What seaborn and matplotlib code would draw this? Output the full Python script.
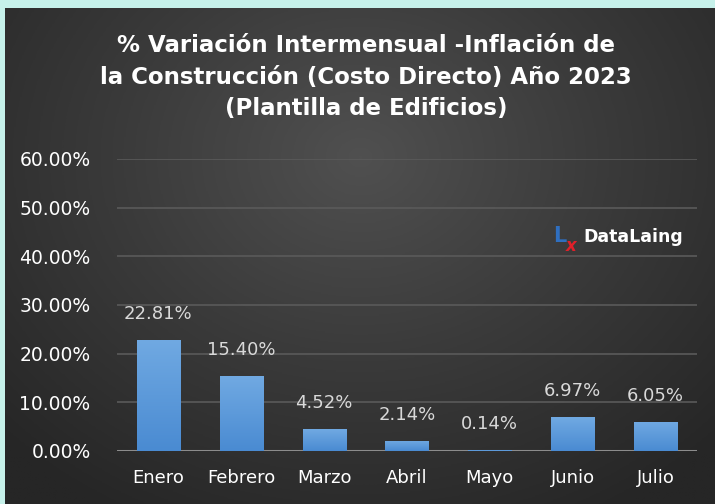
import matplotlib
matplotlib.use("Agg")
import matplotlib.pyplot as plt
import seaborn as sns
import pandas as pd
import numpy as np
from matplotlib.colors import LinearSegmentedColormap

# data
meses = ["Enero", "Febrero", "Marzo", "Abril", "Mayo", "Junio", "Julio"]
variacion = [0.2281, 0.1540, 0.0452, 0.0214, 0.0014, 0.0697, 0.0605]
y_ticks = [0.0, 0.1, 0.2, 0.3, 0.4, 0.5, 0.6]

titulo = ("% Variación Intermensual -Inflación de\n"
          "la Construcción (Costo Directo) Año 2023\n"
          "(Plantilla de Edificios)")

df = pd.DataFrame({"mes": meses, "valor": variacion})

sns.set_theme(style="dark")
plt.rcParams["font.family"] = ["DejaVu Sans"]

W, H = 715, 504
fig = plt.figure(figsize=(W / 100, H / 100), dpi=100, facecolor="#c6f1ea")

# dark panel with a soft radial gradient
bg = fig.add_axes([5 / W, 0, 1 - 5 / W, 1 - 8 / H])
bg.set_axis_off()
yy, xx = np.mgrid[0:400, 0:600]
cx, cy = 300, 120
r = np.sqrt(((xx - cx) / 420) ** 2 + ((yy - cy) / 330) ** 2)
grad = np.clip(r, 0, 1)
cmap_bg = LinearSegmentedColormap.from_list("bg", ["#505050", "#3a3a3a", "#262626"])
bg.imshow(grad, cmap=cmap_bg, aspect="auto", extent=[0, 1, 0, 1], vmin=0, vmax=1)
bg.set_xlim(0, 1)
bg.set_ylim(0, 1)

# main axes
ax = fig.add_axes([117 / W, 1 - 451 / H, (697 - 117) / W, (451 - 159) / H])
ax.set_facecolor("none")

sns.barplot(data=df, x="mes", y="valor", color="#5b9bd5", width=0.52,
            saturation=1, ax=ax, zorder=3)

# vertical gradient on the bars
cmap_bar = LinearSegmentedColormap.from_list("bar", ["#4a8bd2", "#70a9e2"])
for p in ax.patches:
    x0, y0 = p.get_x(), p.get_y()
    w, h = p.get_width(), p.get_height()
    p.set_edgecolor("none")
    img = ax.imshow(np.linspace(0, 1, 50).reshape(-1, 1), cmap=cmap_bar,
                    origin="lower", aspect="auto",
                    extent=[x0, x0 + w, y0, y0 + h], zorder=4)
    img.set_clip_path(p)

ax.set_xlim(-0.5, len(meses) - 0.5)
ax.set_ylim(0, 0.6)
ax.set_yticks(y_ticks)
ax.set_yticklabels([f"{v * 100:.2f}%" for v in y_ticks])
ax.grid(axis="y", color="#5a5a5a", linewidth=1.2, zorder=1)
ax.grid(axis="x", visible=False)
ax.axhline(0, color="#8c8c8c", linewidth=2.2, zorder=2)
for s in ax.spines.values():
    s.set_visible(False)
ax.tick_params(axis="y", colors="white", labelsize=13.5, length=0, pad=19)
ax.tick_params(axis="x", colors="white", labelsize=13, length=0, pad=13)
ax.set_xlabel("")
ax.set_ylabel("")

# data labels
for i, v in enumerate(variacion):
    ax.annotate(f"{v * 100:.2f}%", (i, v), xytext=(0, 17),
                textcoords="offset pixels", ha="center", va="bottom",
                color="#d9d9d9", fontsize=13, zorder=6)

# title
fig.text(0.512, 1 - 34 / H, titulo, ha="center", va="top", color="white",
         fontsize=16.5, fontweight="bold", linespacing=1.48)

# logo
fig.text(583 / W, 1 - 237 / H, "DataLaing", ha="left", va="center",
         color="white", fontsize=12.5, fontweight="bold")
fig.text(553 / W, 1 - 236 / H, "L", ha="left", va="center",
         color="#2f6fc0", fontsize=15, fontweight="bold")
fig.text(566 / W, 1 - 246 / H, "x", ha="left", va="center",
         color="#e0202a", fontsize=12, fontweight="bold", style="italic")

fig.savefig("out.png", dpi=100, facecolor=fig.get_facecolor())
